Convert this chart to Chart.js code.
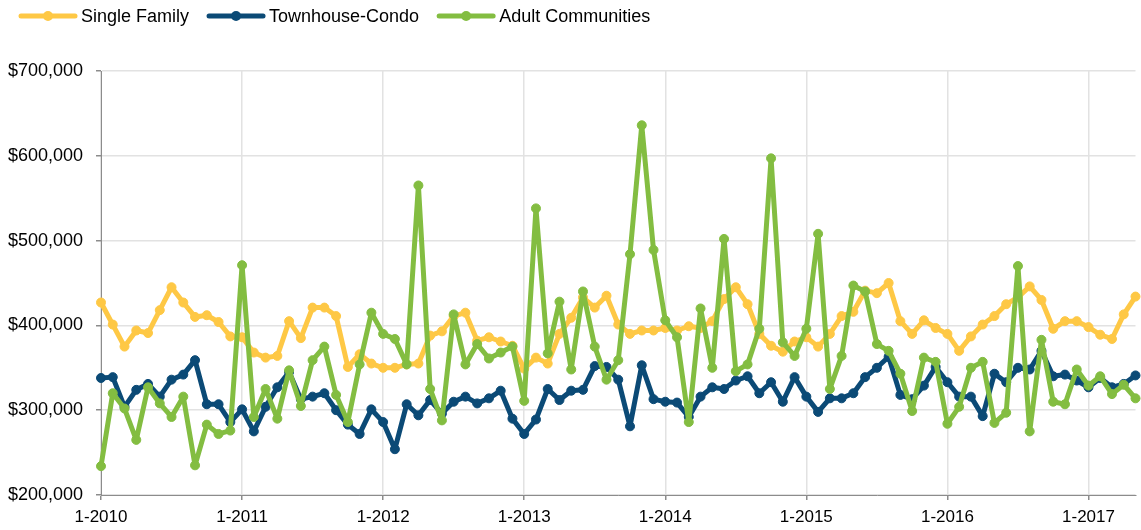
<!DOCTYPE html>
<html lang="en">
<head>
    <meta charset="UTF-8">
    <title>Median Sales Price by Property Type</title>
    <script src="https://cdn.jsdelivr.net/npm/chart.js@4.4.1/dist/chart.umd.min.js"></script>
    <style>
        html, body { margin: 0; padding: 0; background: #fff; overflow: hidden; }
        .chart-container { position: relative; width: 1141px; height: 530px; }
    </style>
</head>
<body>
    <div class="chart-container">
        <canvas id="priceChart" width="1141" height="530"></canvas>
    </div>

    <script>
        // Monthly data, 1-2010 through 5-2017
        const startYear = 2010;
        const monthCount = 89;

        const singleFamily = [
            427, 401, 375, 394, 391, 418, 445, 427, 410, 412, 404, 387,
            386, 368, 362, 364, 405, 385, 421, 421, 411, 351, 366, 355,
            350, 350, 354, 355, 388, 393, 411, 415, 382, 386, 381, 376,
            349, 362, 355, 390, 409, 433, 421, 435, 401, 390, 394, 394,
            397, 394, 399, 397, 405, 431, 445, 425, 390, 376, 369, 381,
            386, 375, 390, 411, 416, 441, 438, 450, 405, 390, 406, 397,
            390, 370, 387, 401, 411, 425, 433, 446, 430, 396, 405, 405,
            398, 389, 384, 413, 434
        ];
        const townhouseCondo = [
            338, 339, 304, 324, 331, 316, 336, 342, 359, 307, 307, 286,
            301, 275, 304, 327, 345, 313, 316, 320, 300, 283, 272, 301,
            286, 254, 307, 294, 312, 296, 310, 316, 308, 314, 323, 290,
            272, 289, 325, 312, 323, 324, 352, 351, 336, 281, 353, 313,
            310, 309, 292, 316, 327, 325, 335, 340, 320, 333, 310, 339,
            316, 298, 314, 314, 320, 339, 350, 363, 318, 313, 329, 351,
            333, 316, 316, 293, 343, 333, 350, 348, 370, 340, 342, 335,
            327, 338, 327, 331, 341
        ];
        const adultCommunities = [
            234, 320, 302, 265, 327, 308, 292, 316, 235, 283, 272, 276,
            471, 292, 325, 290, 347, 305, 359, 375, 318, 286, 354, 415,
            390, 384, 354, 565, 325, 288, 413, 354, 378, 361, 368, 375,
            311, 538, 367, 428, 348, 440, 375, 336, 359, 484, 636, 489,
            406, 386, 286, 420, 350, 502, 346, 354, 396, 597, 380, 364,
            396, 508, 325, 364, 447, 440, 378, 370, 343, 299, 362, 357,
            284, 304, 350, 357, 285, 297, 470, 275, 383, 310, 307, 348,
            329, 340, 319, 330, 314
        ];

        const seriesNames = ['Single Family', 'Townhouse-Condo', 'Adult Communities'];
        const seriesColors = ['#FEC845', '#0B4A76', '#83BD41'];
        const yMin = 200000, yMax = 700000, yStep = 100000;

        // labels like "1-2010", "2-2010" ... only January gets shown
        const labels = [];
        for (let i = 0; i < monthCount; i++) {
            labels.push((i % 12 + 1) + '-' + (startYear + Math.floor(i / 12)));
        }

        const FONT = '"Liberation Sans", Arial, Helvetica, sans-serif';

        // legend with a short line + dot marker, like the original
        const lineLegend = {
            id: 'lineLegend',
            afterDraw(chart) {
                const ctx = chart.ctx;
                const y = 16;
                let x = 19;
                ctx.save();
                ctx.font = '18px ' + FONT;
                ctx.textBaseline = 'middle';
                chart.data.datasets.forEach(ds => {
                    ctx.strokeStyle = ds.borderColor;
                    ctx.lineWidth = 5;
                    ctx.lineCap = 'round';
                    ctx.beginPath();
                    ctx.moveTo(x + 2, y);
                    ctx.lineTo(x + 56, y);
                    ctx.stroke();
                    ctx.fillStyle = ds.borderColor;
                    ctx.beginPath();
                    ctx.arc(x + 29, y, 5, 0, Math.PI * 2);
                    ctx.fill();
                    ctx.fillStyle = '#000';
                    ctx.fillText(ds.label, x + 62, y + 1);
                    x += 62 + ctx.measureText(ds.label).width + 18;
                });
                ctx.restore();
            }
        };

        function makeDataset(name, values, color, order) {
            return {
                label: name,
                data: values.map(v => v * 1000),
                borderColor: color,
                backgroundColor: color,
                borderWidth: 5,
                borderJoinStyle: 'round',
                borderCapStyle: 'round',
                pointRadius: 4.5,
                pointBorderWidth: 1,
                pointBackgroundColor: color,
                pointBorderColor: color,
                tension: 0,
                fill: false,
                order: order
            };
        }

        const ctx = document.getElementById('priceChart').getContext('2d');
        const priceChart = new Chart(ctx, {
            type: 'line',
            data: {
                labels: labels,
                datasets: [
                    makeDataset(seriesNames[0], singleFamily, seriesColors[0], 2),
                    makeDataset(seriesNames[1], townhouseCondo, seriesColors[1], 1),
                    makeDataset(seriesNames[2], adultCommunities, seriesColors[2], 0)
                ]
            },
            options: {
                responsive: false,
                animation: false,
                layout: { padding: { top: 71, left: 8, right: 3, bottom: 2 } },
                scales: {
                    x: {
                        type: 'category',
                        offset: false,
                        grid: { color: '#e2e2e2', tickColor: '#8c8c8c', tickLength: 5, lineWidth: 1.5 },
                        border: { color: '#8c8c8c', width: 1 },
                        ticks: {
                            autoSkip: false,
                            maxRotation: 0,
                            minRotation: 0,
                            padding: 7,
                            color: '#000',
                            font: { family: FONT, size: 17 },
                            callback: function(value) {
                                const lab = this.getLabelForValue(value);
                                return lab.startsWith('1-') ? lab : null;
                            }
                        },
                        afterFit: scale => { scale.height = 33; }
                    },
                    y: {
                        min: yMin,
                        max: yMax,
                        grid: { color: '#e2e2e2', tickColor: '#8c8c8c', tickLength: 5, lineWidth: 1.5 },
                        border: { color: '#8c8c8c', width: 1 },
                        ticks: {
                            stepSize: yStep,
                            padding: 13,
                            color: '#000',
                            font: { family: FONT, size: 18 },
                            callback: v => '$' + v.toLocaleString('en-US')
                        },
                        afterFit: scale => { scale.width = 93; }
                    }
                },
                plugins: {
                    legend: { display: false },
                    tooltip: { enabled: false }
                }
            },
            plugins: [lineLegend]
        });
    </script>
</body>
</html>
